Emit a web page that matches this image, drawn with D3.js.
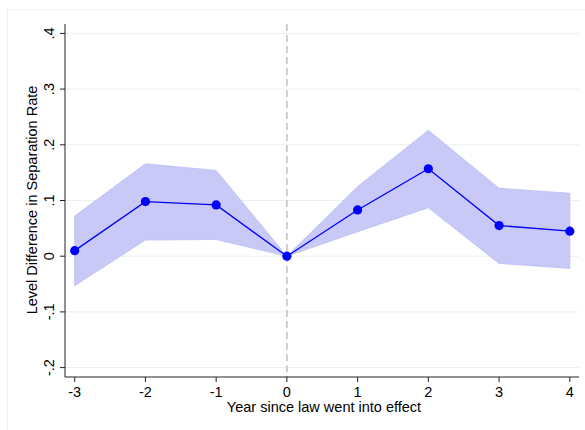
<!DOCTYPE html>
<html>
<head>
<meta charset="utf-8">
<script src="https://cdn.jsdelivr.net/npm/d3@7/dist/d3.min.js"></script>
<style>
  html, body { margin: 0; padding: 0; background: #fff; }
  svg { display: block; font-family: "Liberation Sans", Arial, Helvetica, sans-serif; }
</style>
</head>
<body>
<svg id="chart" width="585" height="430"></svg>
<script>
// Event-study estimates: year relative to the law taking effect
const years = [-3, -2, -1, 0, 1, 2, 3, 4];
const estimate = [0.010, 0.098, 0.092, 0.000, 0.083, 0.157, 0.055, 0.045];
const ciUpper = [0.072, 0.166, 0.154, 0.000, 0.125, 0.226, 0.122, 0.113];
const ciLower = [-0.053, 0.029, 0.030, 0.000, 0.044, 0.087, -0.013, -0.022];

const yTicks = [-0.2, -0.1, 0, 0.1, 0.2, 0.3, 0.4];
const yTickLabels = ["-.2", "-.1", "0", ".1", ".2", ".3", ".4"];
const xTicks = [-3, -2, -1, 0, 1, 2, 3, 4];

const xTitle = "Year since law went into effect";
const yTitle = "Level Difference in Separation Rate";

const svg = d3.select("#chart");

// plot region
const plotLeft = 65, plotRight = 579, plotTop = 24, plotBottom = 377;

const x = d3.scaleLinear().domain([-3, 4]).range([74.7, 569.8]);
const y = d3.scaleLinear().domain([-0.2, 0.4]).range([367.6, 33.4]);

// faint graph-region border
svg.append("rect")
  .attr("x", 7.5).attr("y", 9.5)
  .attr("width", 600).attr("height", 440)
  .attr("fill", "none")
  .attr("stroke", "#eef2f4")
  .attr("stroke-width", 1);

// horizontal gridlines
svg.append("g")
  .selectAll("line")
  .data(yTicks)
  .join("line")
  .attr("x1", plotLeft).attr("x2", plotRight)
  .attr("y1", d => y(d)).attr("y2", d => y(d))
  .attr("stroke", "#e8f0f1")
  .attr("stroke-width", 1);

// confidence band
const band = years.map((yr, i) => ({ yr, lo: ciLower[i], hi: ciUpper[i] }));
svg.append("path")
  .datum(band)
  .attr("d", d3.area().x(d => x(d.yr)).y0(d => y(d.lo)).y1(d => y(d.hi)))
  .attr("fill", "#c9c9f7")
  .attr("stroke", "#bcbcf6")
  .attr("stroke-width", 0.8);

// reference line at the year of enactment
svg.append("line")
  .attr("x1", x(0)).attr("x2", x(0))
  .attr("y1", plotTop).attr("y2", plotBottom)
  .attr("stroke", "#c4c4c4")
  .attr("stroke-width", 1.6)
  .attr("stroke-dasharray", "7,4");

// point estimates
const pts = years.map((yr, i) => ({ yr, v: estimate[i] }));
svg.append("path")
  .datum(pts)
  .attr("d", d3.line().x(d => x(d.yr)).y(d => y(d.v)))
  .attr("fill", "none")
  .attr("stroke", "#0000ff")
  .attr("stroke-width", 1.3);

svg.append("g")
  .selectAll("circle")
  .data(pts)
  .join("circle")
  .attr("cx", d => x(d.yr))
  .attr("cy", d => y(d.v))
  .attr("r", 4.6)
  .attr("fill", "#0000ff");

// y axis
const yAxis = svg.append("g");
yAxis.append("line")
  .attr("x1", plotLeft).attr("x2", plotLeft)
  .attr("y1", plotTop).attr("y2", plotBottom)
  .attr("stroke", "#222").attr("stroke-width", 1);
yAxis.selectAll("line.tick")
  .data(yTicks)
  .join("line")
  .attr("class", "tick")
  .attr("x1", plotLeft - 5).attr("x2", plotLeft)
  .attr("y1", d => y(d)).attr("y2", d => y(d))
  .attr("stroke", "#222").attr("stroke-width", 1);
yAxis.selectAll("text")
  .data(yTicks)
  .join("text")
  .attr("transform", d => `translate(53.5,${y(d)}) rotate(-90)`)
  .attr("text-anchor", "middle")
  .attr("font-size", 14.5)
  .attr("fill", "#000")
  .text((d, i) => yTickLabels[i]);

// x axis
const xAxis = svg.append("g");
xAxis.append("line")
  .attr("x1", plotLeft).attr("x2", plotRight)
  .attr("y1", plotBottom).attr("y2", plotBottom)
  .attr("stroke", "#222").attr("stroke-width", 1);
xAxis.selectAll("line.tick")
  .data(xTicks)
  .join("line")
  .attr("class", "tick")
  .attr("x1", d => x(d)).attr("x2", d => x(d))
  .attr("y1", plotBottom).attr("y2", plotBottom + 5)
  .attr("stroke", "#222").attr("stroke-width", 1);
xAxis.selectAll("text")
  .data(xTicks)
  .join("text")
  .attr("x", d => x(d))
  .attr("y", 396.5)
  .attr("text-anchor", "middle")
  .attr("font-size", 14.5)
  .attr("fill", "#000")
  .text(d => d);

// axis titles
svg.append("text")
  .attr("x", (plotLeft + plotRight) / 2 + 2)
  .attr("y", 412)
  .attr("text-anchor", "middle")
  .attr("font-size", 14.5)
  .attr("fill", "#000")
  .text(xTitle);

svg.append("text")
  .attr("transform", `translate(36.7,200) rotate(-90)`)
  .attr("text-anchor", "middle")
  .attr("font-size", 14.5)
  .attr("fill", "#000")
  .text(yTitle);
</script>
</body>
</html>
